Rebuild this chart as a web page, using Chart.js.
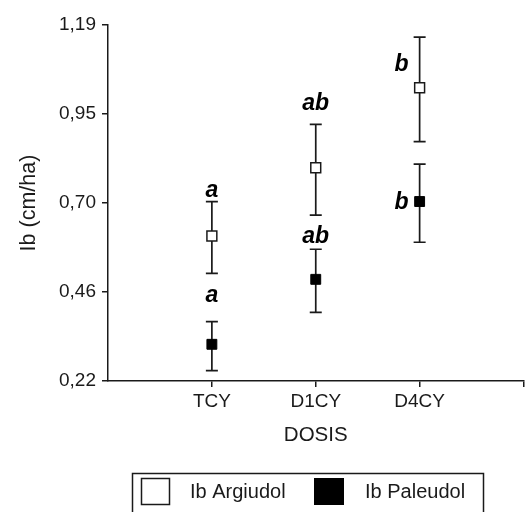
<!DOCTYPE html>
<html><head><meta charset="utf-8">
<script src="https://cdn.jsdelivr.net/npm/chart.js@4.4.0/dist/chart.umd.min.js"></script>
<style>html,body{margin:0;padding:0;background:#fff}#wrap{width:532px;height:512px}</style>
</head><body><div id="wrap"><canvas id="c" width="532" height="512"></canvas></div>
<script>
const categories = ['TCY', 'D1CY', 'D4CY'];
const argiudolMean = [0.615, 0.801, 1.019];
const argiudolLow = [0.513, 0.672, 0.872];
const argiudolHigh = [0.709, 0.919, 1.157];
const paleudolMean = [0.320, 0.497, 0.709];
const paleudolLow = [0.248, 0.407, 0.598];
const paleudolHigh = [0.382, 0.579, 0.811];
const argiudolLetters = ['a', 'ab', 'b'];
const paleudolLetters = ['a', 'ab', 'b'];
const yTickValues = [0.22, 0.4625, 0.705, 0.9475, 1.19];
const yTickLabels = ['0,22', '0,46', '0,70', '0,95', '1,19'];
const seriesLabels = ['Ib Argiudol', 'Ib Paleudol'];

const FONT = "'Liberation Sans', Arial, sans-serif";
const INK = '#1a1a1a';

function build(mean, lo, hi, letters) {
  return categories.map((c, i) => ({ x: i + 1, y: mean[i], lo: lo[i], hi: hi[i], letter: letters[i] }));
}

// pixel offsets of the significance letters relative to each marker (style only)
const letterOffsets = [
  [[0, -39], [0, -58], [-18, -17]],
  [[0, -42], [0, -36], [-18, 7]]
];

const errorBars = {
  id: 'errorBars',
  beforeDatasetsDraw(chart) {
    const { ctx, scales: { x, y } } = chart;
    ctx.save();
    ctx.strokeStyle = INK;
    ctx.lineWidth = 1.7;
    chart.data.datasets.forEach(ds => {
      ds.data.forEach(p => {
        const px = x.getPixelForValue(p.x);
        const pl = y.getPixelForValue(p.lo);
        const ph = y.getPixelForValue(p.hi);
        ctx.beginPath();
        ctx.moveTo(px, pl); ctx.lineTo(px, ph);
        ctx.moveTo(px - 6, pl); ctx.lineTo(px + 6, pl);
        ctx.moveTo(px - 6, ph); ctx.lineTo(px + 6, ph);
        ctx.stroke();
      });
    });
    ctx.restore();
  }
};

const letterPlugin = {
  id: 'letters',
  afterDatasetsDraw(chart) {
    const { ctx } = chart;
    ctx.save();
    ctx.fillStyle = '#000';
    ctx.font = "italic bold 23px " + FONT;
    ctx.textAlign = 'center';
    ctx.textBaseline = 'alphabetic';
    chart.data.datasets.forEach((ds, d) => {
      const meta = chart.getDatasetMeta(d);
      meta.data.forEach((el, i) => {
        const off = letterOffsets[d][i];
        ctx.fillText(ds.data[i].letter, el.x + off[0], el.y + off[1]);
      });
    });
    ctx.restore();
  }
};

const boxLegend = {
  id: 'boxLegend',
  afterDraw(chart) {
    const { ctx } = chart;
    const ds = chart.data.datasets;
    ctx.save();
    ctx.strokeStyle = INK;
    ctx.lineWidth = 1.5;
    ctx.strokeRect(132.5, 473.5, 351, 60);
    ctx.fillStyle = ds[0].backgroundColor;
    ctx.fillRect(141, 478, 29, 27);
    ctx.strokeRect(141.5, 478.5, 28, 26);
    ctx.fillStyle = ds[1].backgroundColor;
    ctx.fillRect(314, 478, 30, 27);
    ctx.fillStyle = INK;
    ctx.font = "20px " + FONT;
    ctx.textBaseline = 'middle';
    ctx.textAlign = 'left';
    ctx.fillText(ds[0].label, 190, 492);
    ctx.fillText(ds[1].label, 365, 492);
    ctx.restore();
  }
};

new Chart(document.getElementById('c'), {
  type: 'scatter',
  data: {
    datasets: [
      {
        label: seriesLabels[0],
        data: build(argiudolMean, argiudolLow, argiudolHigh, argiudolLetters),
        pointStyle: 'rect', pointRadius: 7, pointHoverRadius: 7,
        backgroundColor: '#ffffff', borderColor: INK, borderWidth: 1.5
      },
      {
        label: seriesLabels[1],
        data: build(paleudolMean, paleudolLow, paleudolHigh, paleudolLetters),
        pointStyle: 'rect', pointRadius: 7, pointHoverRadius: 7,
        backgroundColor: '#000000', borderColor: '#000000', borderWidth: 1
      }
    ]
  },
  options: {
    responsive: false,
    animation: false,
    devicePixelRatio: 1,
    layout: { padding: { top: 25, right: 1, left: 0, bottom: 0 } },
    plugins: { legend: { display: false }, tooltip: { enabled: false } },
    scales: {
      x: {
        type: 'linear', min: 0, max: 4,
        afterBuildTicks: (s) => { s.ticks = [1, 2, 3, 4].map(v => ({ value: v })); },
        afterFit: (s) => { s.height = 131; },
        ticks: {
          callback: (v) => categories[v - 1] || '',
          font: { family: FONT, size: 19 }, color: INK, padding: 3, maxRotation: 0
        },
        grid: { drawOnChartArea: false, drawTicks: true, tickLength: 6, color: INK, lineWidth: 1.5 },
        border: { color: INK, width: 1.5 },
        title: { display: true, text: 'DOSIS', font: { family: FONT, size: 20.5 }, color: INK, padding: { top: 0, bottom: 64 } }
      },
      y: {
        type: 'linear', min: 0.22, max: 1.19,
        afterBuildTicks: (s) => { s.ticks = yTickValues.map(v => ({ value: v })); },
        afterFit: (s) => { s.width = 108; },
        ticks: {
          callback: (v, i) => yTickLabels[i],
          font: { family: FONT, size: 19 }, color: INK, padding: 6
        },
        grid: { drawOnChartArea: false, drawTicks: true, tickLength: 6, color: INK, lineWidth: 1.5 },
        border: { color: INK, width: 1.5 },
        title: { display: true, text: 'Ib (cm/ha)', font: { family: FONT, size: 21.5 }, color: INK, padding: { top: 16, bottom: 0 } }
      }
    }
  },
  plugins: [errorBars, letterPlugin, boxLegend]
});
</script>
</body></html>
